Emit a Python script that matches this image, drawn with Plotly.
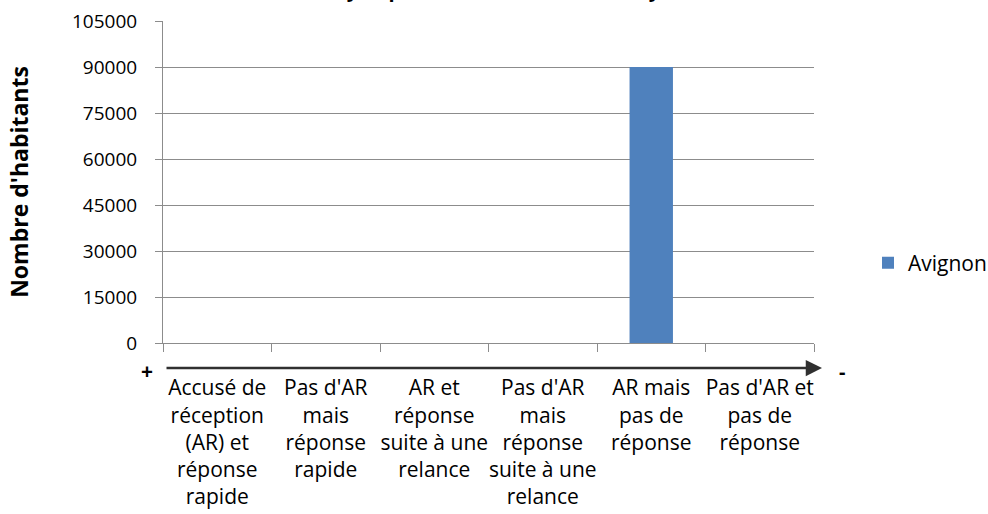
import plotly.graph_objects as go

# Categories of response behaviour, ordered from best (+) to worst (-)
categories = [
    "Accusé de<br>réception<br>(AR) et<br>réponse<br>rapide",
    "Pas d'AR<br>mais<br>réponse<br>rapide",
    "AR et<br>réponse<br>suite à une<br>relance",
    "Pas d'AR<br>mais<br>réponse<br>suite à une<br>relance",
    "AR mais<br>pas de<br>réponse",
    "Pas d'AR et<br>pas de<br>réponse",
]
category_keys = ["c1", "c2", "c3", "c4", "c5", "c6"]
avignon = [0, 0, 0, 0, 90000, 0]
y_ticks = [0, 15000, 30000, 45000, 60000, 75000, 90000, 105000]

W, H = 988, 514
L, R, T, B = 163, 174, 21, 171

fig = go.Figure()
fig.add_trace(go.Bar(
    x=category_keys, y=avignon, name="Avignon",
    marker=dict(color="#4f81bd", line=dict(width=0)),
    width=0.4,
))

grid = "#8c8c8c"
fig.update_layout(
    width=W, height=H,
    margin=dict(l=L, r=R, t=T, b=B, pad=0, autoexpand=False),
    paper_bgcolor="white", plot_bgcolor="white",
    font=dict(family="Open Sans", color="#000000"),
    showlegend=True,
    legend=dict(x=(868 - L) / (W - L - R), y=(H - B - 263) / (H - T - B),
                xanchor="left", yanchor="middle",
                font=dict(size=21, family="Open Sans", color="#000000"),
                itemwidth=30, bgcolor="rgba(0,0,0,0)"),
    bargap=0.6,
)

fig.update_xaxes(
    type="category", categoryorder="array", categoryarray=category_keys,
    tickmode="array", tickvals=category_keys, ticktext=categories,
    tickangle=0, automargin=False,
    tickson="boundaries", ticks="outside", ticklen=8, tickcolor=grid,
    showline=True, linecolor=grid, linewidth=1,
    showgrid=False, zeroline=False,
    tickfont=dict(size=21, family="Open Sans", color="#000000"),
    ticklabelstandoff=26,
    range=[-0.5, 5.5],
)
fig.update_yaxes(
    range=[0, 105000], tickmode="array", tickvals=y_ticks,
    ticktext=[str(v) for v in y_ticks], automargin=False,
    ticks="outside", ticklen=7, tickcolor=grid,
    showline=True, linecolor=grid, linewidth=1,
    showgrid=True, gridcolor=grid, gridwidth=1,
    zeroline=False,
    tickfont=dict(size=19, family="Open Sans", color="#000000"),
    ticklabelstandoff=14,
    title=dict(text="<b>Nombre d'habitants</b>",
               font=dict(size=23, family="Open Sans", color="#000000"),
               standoff=36),
)

pw, ph = W - L - R, H - T - B

def px(xp):
    return (xp - L) / pw

def py(yp):
    return (H - B - yp) / ph

# Chart title (extends above the top edge of the page)
fig.add_annotation(
    text="<b>Délais de réponse des mairies à une demande<br>de citoyen pour une ville de taille moyenne</b>",
    xref="paper", yref="paper", x=px(495), y=1, xanchor="center", yanchor="bottom",
    yshift=16, showarrow=False, font=dict(size=20, family="Open Sans", color="#000000"),
)

# Direction arrow from best (+) to worst (-)
fig.add_annotation(
    xref="paper", yref="paper", x=px(822), y=py(368),
    ax=-657, ay=0, axref="pixel", ayref="pixel", text="",
    showarrow=True, arrowhead=2, arrowsize=1.3, arrowwidth=2.5, arrowcolor="#303030",
)
fig.add_annotation(
    text="<b>+</b>", xref="paper", yref="paper", x=px(147), y=py(371),
    xanchor="center", yanchor="middle", showarrow=False,
    font=dict(size=21, family="Open Sans", color="#000000"),
)
fig.add_annotation(
    text="<b>-</b>", xref="paper", yref="paper", x=px(842), y=py(372),
    xanchor="center", yanchor="middle", showarrow=False,
    font=dict(size=20, family="Open Sans", color="#000000"),
)

fig.write_html("out.html")
